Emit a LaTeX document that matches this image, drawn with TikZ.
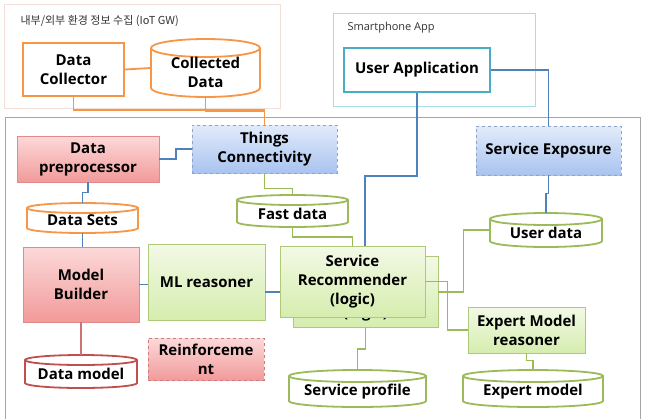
\documentclass[tikz,border=0pt]{standalone}
\usepackage{fontspec}
\setmainfont{Open Sans}
\newfontfamily\krfont{Noto Sans CJK KR}
\usetikzlibrary{calc}
\definecolor{cOrange}{HTML}{F79646}
\definecolor{cRed}{HTML}{C0504D}
\definecolor{cGreen}{HTML}{9BBB59}
\definecolor{cBlue}{HTML}{4F81BD}
\definecolor{cTeal}{HTML}{4BACC6}
\definecolor{cFrame}{HTML}{A6A6A6}
\definecolor{cIot}{HTML}{F2E0D8}
\definecolor{cPhone}{HTML}{A8DCE8}
\definecolor{gTop}{HTML}{F3F9E6}
\definecolor{gBot}{HTML}{D5EDAE}
\definecolor{rTop}{HTML}{FCD9D9}
\definecolor{rBot}{HTML}{F29A9A}
\definecolor{bTop}{HTML}{E2EBFA}
\definecolor{bBot}{HTML}{A9C3F0}
\definecolor{cDash}{HTML}{8FA3C4}
\definecolor{cRedBorder}{HTML}{E08A8A}
\tikzset{
  lbl/.style={font=\fontsize{15}{19}\selectfont\bfseries, align=center, text=black},
  smalllbl/.style={font=\fontsize{11}{13}\selectfont, text=black!80, anchor=west},
  greenbox/.style={lbl, draw=cGreen!80, line width=0.8pt, top color=gTop, bottom color=gBot, inner sep=0pt},
  redbox/.style={lbl, draw=cRedBorder, line width=0.8pt, top color=rTop, bottom color=rBot, inner sep=0pt},
  bluebox/.style={lbl, draw=cDash, dashed, line width=0.8pt, top color=bTop, bottom color=bBot, inner sep=0pt},
  plainbox/.style={lbl, draw=#1, line width=1.8pt, fill=white, inner sep=0pt},
  oline/.style={cOrange, line width=1.8pt},
  bline/.style={cBlue, line width=1.5pt},
  gline/.style={cGreen, line width=1.5pt},
  rline/.style={cRed!80, line width=1.5pt},
}
% #1 name, #2 x1, #3 y1, #4 x2, #5 y2, #6 ry, #7 colour, #8 text
\newcommand\dbshape[8]{%
  \pgfmathsetmacro\dbrx{(#4-#2)/2}%
  \pgfmathsetmacro\dbcx{(#2+#4)/2}%
  \pgfmathsetmacro\dbcy{(#3+#5)/2+#6/2}%
  \draw[#7, line width=1.8pt, fill=white] (#2,-#3-#6) -- (#2,-#5+#6)
     arc[start angle=180, end angle=360, x radius=\dbrx pt, y radius=#6 pt]
     -- (#4,-#3-#6)
     arc[start angle=0, end angle=180, x radius=\dbrx pt, y radius=#6 pt] -- cycle;
  \draw[#7, line width=1.8pt] (#2,-#3-#6)
     arc[start angle=180, end angle=360, x radius=\dbrx pt, y radius=#6 pt];
  \node[minimum width={(#4-#2)*1pt}, minimum height={(#5-#3)*1pt}, inner sep=0pt]
     (#1) at ({(#2+#4)/2},{-(#3+#5)/2}) {};
  \node[lbl] (#1text) at (\dbcx,-\dbcy) {#8};
}
\begin{document}
\begin{tikzpicture}[x=1pt,y=1pt]
\useasboundingbox (0,0) rectangle (647,-418);
% frames
\draw[cIot, line width=0.8pt] (4,-4) rectangle (280,-108);
\draw[cPhone, line width=0.8pt] (333,-13) rectangle (535,-106);
\draw[cFrame, line width=0.9pt] (5,-117) rectangle (640,-430);
\node[smalllbl] (iotlabel) at (17,-21) {\krfont 내부/외부 환경 정보 수집 (IoT GW)};
\node[smalllbl] (phonelabel) at (344,-28) {Smartphone App};

% top boxes
\node[plainbox=cOrange, minimum width=101pt, minimum height=53pt] (DC) at (73.5,-69.5) {Data\\Collector};
\dbshape{CD}{151}{39}{260}{97}{9}{cOrange}{Collected\\Data}
\node[plainbox=cTeal, minimum width=146pt, minimum height=44pt] (UA) at (417,-70) {User Application};

% main area boxes
\node[bluebox, minimum width=145pt, minimum height=48pt] (TC) at (264.5,-149) {Things\\Connectivity};
\node[redbox, minimum width=142pt, minimum height=46pt] (DP) at (88,-159) {Data\\preprocessor};
\node[bluebox, minimum width=145pt, minimum height=49pt] (SE) at (548.5,-150.5) {Service Exposure};
\dbshape{DS}{27}{203}{138}{233}{5}{cOrange}{Data Sets}
\dbshape{FD}{237}{195}{348}{227}{5}{cGreen}{Fast data}
\dbshape{UD}{490}{213}{602}{247}{6}{cGreen}{User data}
\node[redbox, minimum width=116pt, minimum height=75pt] (MB) at (81,-284.5) {Model\\Builder};
\node[greenbox, minimum width=117pt, minimum height=76pt] (ML) at (206.5,-282) {ML reasoner};
\node[redbox, dashed, draw=cRedBorder!90!black, minimum width=116pt, minimum height=42pt] (RF) at (206,-359) {Reinforceme\\nt};
\dbshape{DM}{25}{355}{137}{388}{5}{cRed}{Data model}
\node[greenbox, minimum width=145pt, minimum height=71pt] (SRb) at (365.5,-292) {};
\node[lbl] (SRbtext) at (365.5,-314) {(logic)};
\node[greenbox, minimum width=145pt, minimum height=71pt] (SR) at (352.5,-281.5) {Service\\Recommender\\(logic)};
\node[greenbox, minimum width=117pt, minimum height=46pt] (EMR) at (526.5,-330) {Expert Model\\reasoner};
\dbshape{SP}{289}{370}{426}{407}{6}{cGreen}{Service profile}
\dbshape{EM}{463}{370}{603}{407}{6}{cGreen}{Expert model}

% connectors
\draw[oline] (DC.east) -- (CD.west);
\draw[oline] (DC.south) -- ++(0,-13) -| (TC.north);
\draw[oline] (CD.south) -- ++(0,-14) -| (TC.north);
\draw[bline] (DP.east) -- (176,-159) |- (TC.west);
\draw[bline] (DP.south) -- ++(0,-10) -| (DS.north);
\draw[bline] (DS.south) -- (DS.south |- MB.north);
\draw[rline] (MB.south) -- (DM.north);
\draw[bline] (MB.east) -- (MB.east -| ML.west);
\coordinate (mlr) at (265,-292);
\draw[bline] (mlr) -- (mlr -| SR.west);
\draw[gline] (TC.south) -- ++(0,-15) -| (FD.north);
\draw[gline] (FD.south) -- ++(0,-10) -| (SR.north);
\draw[bline] (UA.south) -- ++(0,-83) -| ($(SR.north)+(12.5,0)$);
\draw[bline] (UA.east) -| (SE.north);
\draw[bline] (SE.south) -- ++(0,-18) -| (UD.north);
\draw[gline] (SRb.east) -- ++(25,0) |- (UD.west);
\draw[gline] (SR.east) -- ++(22,0) |- (EMR.west);
\draw[gline] (EMR.south) -- ++(0,-7) -| (EM.north);
\draw[gline] (SRb.south) -- ++(0,-21) -| (SP.north);
\end{tikzpicture}
\end{document}
